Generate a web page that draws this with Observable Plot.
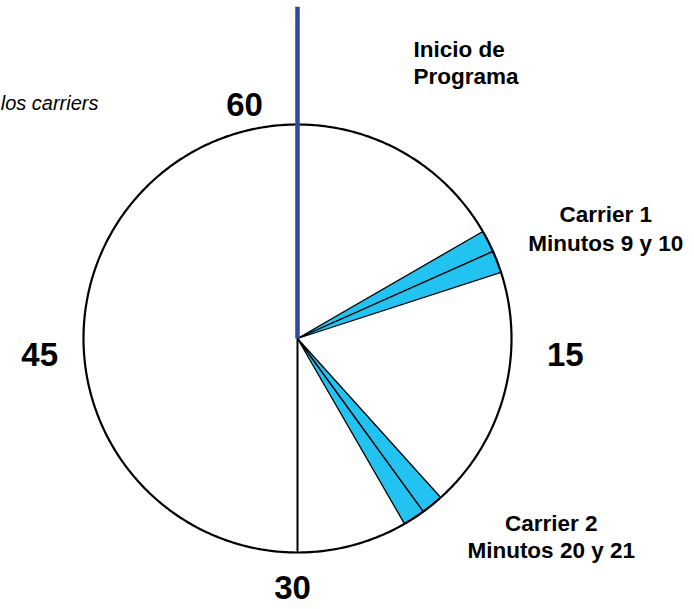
<!DOCTYPE html>
<html>
<head>
<meta charset="utf-8">
<script src="https://cdn.jsdelivr.net/npm/d3@7"></script>
<script src="https://cdn.jsdelivr.net/npm/@observablehq/plot@0.6"></script>
<style>
  html, body { margin: 0; padding: 0; background: #fff; }
  #chart svg { display: block; }
</style>
</head>
<body>
<div id="chart"></div>
<script>
// ---- data ----
const minuteMarks = [0, 15, 30, 45];
const minuteLabels = ["60", "15", "30", "45"];
const carrierNames = ["Carrier 1", "Carrier 2"];
const carrierMinuteText = ["Minutos 9 y 10", "Minutos 20 y 21"];
const carrierSliceStarts = [[10, 11], [23, 24]]; // one-minute wedges as drawn
const sliceLength = 1;
const programStartMinute = 0;
const programLabel = "Inicio de\nPrograma";
const halfHourMinute = 30;
const subtitleText = "Minutos de los carriers";

// ---- helpers (minute -> unit-circle coordinates) ----
const ang = m => (m / 60) * 2 * Math.PI;
const px = (m, r = 1) => r * Math.sin(ang(m));
const py = (m, r = 1) => r * Math.cos(ang(m));

const face = d3.range(0, 60, 0.1).map(m => ({x: px(m), y: py(m)}));

const wedges = carrierSliceStarts.flatMap((starts, ci) =>
  starts.flatMap((s, si) => {
    const id = `${ci}-${si}`;
    const pts = [{id, x: 0, y: 0}];
    for (let m = s; m <= s + sliceLength + 1e-9; m += 0.05) pts.push({id, x: px(m), y: py(m)});
    return pts;
  })
);

const carriers = carrierNames.map((n, i) => ({
  label: n + "\n" + carrierMinuteText[i],
  mid: carrierSliceStarts[i][0] + sliceLength
}));

const ticks = minuteMarks.map((m, i) => ({m, label: minuteLabels[i]}));
const tickText = (i, dx, dy) => Plot.text([ticks[i]], {
  x: d => px(d.m, 1.2), y: d => py(d.m, 1.2), text: "label",
  dx, dy, fontSize: 33, fontWeight: "bold", fill: "black"
});

const W = 694, H = 609, R = 214, CX = 297, CY = 338;

const chart = Plot.plot({
  width: W, height: H,
  margin: 0,
  x: {domain: [-CX / R, (W - CX) / R], axis: null},
  y: {domain: [-(H - CY) / R, CY / R], axis: null},
  style: {fontFamily: "'Liberation Sans', Arial, Helvetica, sans-serif", background: "white"},
  marks: [
    Plot.line(face, {x: "x", y: "y", curve: "linear-closed", fill: "white", stroke: "none"}),
    Plot.line(wedges, {x: "x", y: "y", z: "id", curve: "linear-closed", fill: "#22c3f0", stroke: "black", strokeWidth: 1.3, strokeLinejoin: "round"}),
    Plot.link([halfHourMinute], {x1: 0, y1: 0, x2: d => px(d), y2: d => py(d), stroke: "black", strokeWidth: 2}),
    Plot.line(face, {x: "x", y: "y", curve: "linear-closed", fill: "none", stroke: "black", strokeWidth: 2.2}),
    Plot.link([programStartMinute], {x1: 0, y1: 0, x2: d => px(d, 1.55), y2: d => py(d, 1.55), stroke: "#2e4a9e", strokeWidth: 4.5}),
    tickText(0, -53, 24),
    tickText(1, 11, 17),
    tickText(2, -5, -7),
    tickText(3, -1, 17),
    Plot.text([programLabel], {x: px(programStartMinute, 1.2), y: py(programStartMinute, 1.2), text: d => d, textAnchor: "start", dx: 116, dy: -20, fontSize: 22.5, fontWeight: "bold", lineHeight: 1.2, fill: "black"}),
    Plot.text([carriers[0]], {x: d => px(d.mid, 1.5), y: d => py(d.mid, 1.5), text: "label", dx: 15, dy: 19, fontSize: 22.5, fontWeight: "bold", lineHeight: 1.29, fill: "black"}),
    Plot.text([carriers[1]], {x: d => px(d.mid, 1.5), y: d => py(d.mid, 1.5), text: "label", dx: 65, dy: -62, fontSize: 22.5, fontWeight: "bold", lineHeight: 1.2, fill: "black"}),
    Plot.text([subtitleText], {frameAnchor: "top-left", text: d => d, dx: 98, dy: 103, textAnchor: "end", lineAnchor: "middle", fontSize: 20, fontStyle: "italic", fill: "black"})
  ]
});
document.getElementById("chart").appendChild(chart);
</script>
</body>
</html>
